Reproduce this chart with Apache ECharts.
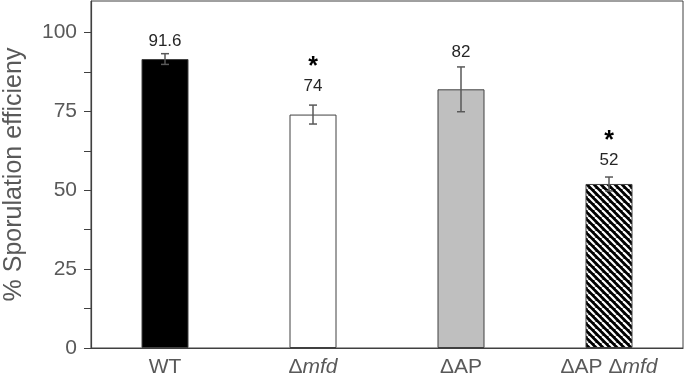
<!DOCTYPE html>
<html>
<head>
    <meta charset="utf-8">
    <title>Sporulation efficiency</title>
    <script src="https://cdn.jsdelivr.net/npm/echarts@6.0.0/dist/echarts.min.js"></script>
    <style>
        html, body { margin: 0; padding: 0; background: #fff; }
        #main { width: 685px; height: 374px; }
    </style>
</head>
<body>
    <div id="main"></div>
    <script>
        // data
        var categories = ['WT', 'Δmfd', 'ΔAP', 'ΔAP Δmfd'];
        var efficiency = [91.6, 74, 82, 52];
        var errors = [1.7, 3.0, 7.1, 2.2];
        var significant = [false, true, false, true];
        var yLabelTicks = [0, 25, 50, 75, 100];
        var yMinorTicks = [0, 12.5, 25, 37.5, 50, 62.5, 75, 87.5, 100];

        // black bar with white "\" stripes
        function hatch() {
            var s = 7;
            var c = document.createElement('canvas');
            c.width = s; c.height = s;
            var g = c.getContext('2d');
            g.fillStyle = '#000';
            g.fillRect(0, 0, s, s);
            g.strokeStyle = '#fff';
            g.lineWidth = 2.2;
            for (var k = -1; k <= 1; k++) {
                g.beginPath();
                g.moveTo(k * s, 0);
                g.lineTo(k * s + s, s);
                g.stroke();
            }
            return { image: c, repeat: 'repeat' };
        }

        var barFills = ['#000000', '#ffffff', '#bfbfbf', hatch()];
        var labelGap = [12, 19, 15, 17];   // px from error cap to label centre
        var axisGray = '#404040';
        var textGray = '#595959';
        var font = 'Liberation Sans, Arial, sans-serif';

        var chart = echarts.init(document.getElementById('main'));

        var option = {
            backgroundColor: '#fff',
            animation: false,
            textStyle: { fontFamily: font },
            grid: {
                left: 91, right: 2, top: 1, bottom: 26,
                containLabel: false,
                outerBoundsMode: 'none',
                show: true, borderColor: axisGray, borderWidth: 1
            },
            xAxis: {
                type: 'category',
                data: categories,
                axisLine: { lineStyle: { color: axisGray, width: 1.2 } },
                axisTick: { show: false },
                axisLabel: {
                    interval: 0,
                    hideOverlap: false,
                    margin: 9,
                    fontSize: 21,
                    color: textGray,
                    formatter: function (v) {
                        return v.replace(/mfd/g, '{i|mfd}');
                    },
                    rich: {
                        i: { fontSize: 21, color: textGray, fontStyle: 'italic' }
                    }
                }
            },
            yAxis: {
                type: 'value',
                min: 0,
                max: 110,
                name: '% Sporulation efficieny',
                nameLocation: 'middle',
                nameGap: 64,
                nameTextStyle: { fontSize: 25, color: textGray },
                splitLine: { show: false },
                axisLine: { show: true, lineStyle: { color: axisGray, width: 1.2 } },
                axisTick: {
                    show: true, inside: false, length: 7,
                    customValues: yMinorTicks,
                    lineStyle: { color: axisGray }
                },
                axisLabel: {
                    margin: 14,
                    fontSize: 21,
                    color: textGray,
                    customValues: yLabelTicks
                }
            },
            series: [
                {
                    type: 'bar',
                    barWidth: 47,
                    data: efficiency.map(function (v, i) {
                        return {
                            value: v,
                            itemStyle: {
                                color: barFills[i],
                                borderColor: axisGray,
                                borderWidth: 1
                            }
                        };
                    })
                },
                {
                    type: 'custom',
                    data: efficiency.map(function (v, i) { return [i, v, errors[i]]; }),
                    z: 10,
                    renderItem: function (params, api) {
                        var i = api.value(0);
                        var v = api.value(1);
                        var e = api.value(2);
                        var hi = api.coord([i, v + e]);
                        var lo = api.coord([i, v - e]);
                        var cap = 4;
                        var line = { stroke: textGray, lineWidth: 1.5 };
                        var kids = [
                            { type: 'line', shape: { x1: hi[0], y1: hi[1], x2: lo[0], y2: lo[1] }, style: line },
                            { type: 'line', shape: { x1: hi[0] - cap, y1: hi[1], x2: hi[0] + cap, y2: hi[1] }, style: line },
                            { type: 'line', shape: { x1: lo[0] - cap, y1: lo[1], x2: lo[0] + cap, y2: lo[1] }, style: line },
                            {
                                type: 'text',
                                x: hi[0], y: hi[1] - labelGap[i],
                                style: {
                                    text: String(v),
                                    align: 'center', verticalAlign: 'middle',
                                    fontSize: 17, fill: '#262626',
                                    fontFamily: font
                                }
                            }
                        ];
                        if (significant[i]) {
                            kids.push({
                                type: 'text',
                                x: hi[0], y: hi[1] - labelGap[i] - 6,
                                style: {
                                    text: '*',
                                    align: 'center', verticalAlign: 'bottom',
                                    fontSize: 25, fontWeight: 'bold', fill: '#000',
                                    fontFamily: font
                                }
                            });
                        }
                        return { type: 'group', children: kids };
                    }
                }
            ]
        };

        chart.setOption(option);
        window.addEventListener('resize', function () { chart.resize(); });
    </script>
</body>
</html>
